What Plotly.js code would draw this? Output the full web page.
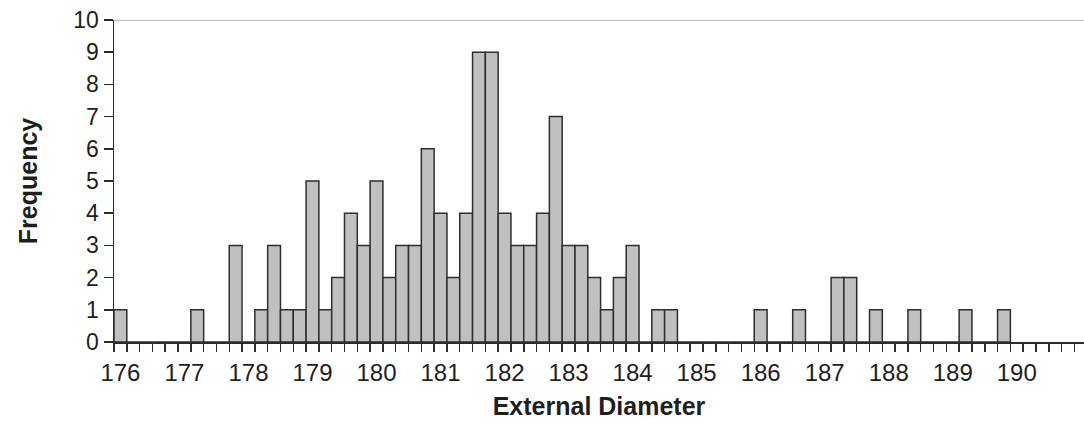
<!DOCTYPE html>
<html>
<head>
<meta charset="utf-8">
<script src="https://cdn.plot.ly/plotly-3.0.1.min.js"></script>
<style>
  html, body { margin: 0; padding: 0; background: #ffffff; }
  #chart { width: 1084px; height: 422px; }
</style>
</head>
<body>
<div id="chart"></div>
<script>
// Bin centres (width 0.2) and frequencies
const binCenters = [
  176.0, 176.2, 176.4, 176.6, 176.8, 177.0, 177.2, 177.4, 177.6, 177.8,
  178.0, 178.2, 178.4, 178.6, 178.8, 179.0, 179.2, 179.4, 179.6, 179.8,
  180.0, 180.2, 180.4, 180.6, 180.8, 181.0, 181.2, 181.4, 181.6, 181.8,
  182.0, 182.2, 182.4, 182.6, 182.8, 183.0, 183.2, 183.4, 183.6, 183.8,
  184.0, 184.2, 184.4, 184.6, 184.8, 185.0, 185.2, 185.4, 185.6, 185.8,
  186.0, 186.2, 186.4, 186.6, 186.8, 187.0, 187.2, 187.4, 187.6, 187.8,
  188.0, 188.2, 188.4, 188.6, 188.8, 189.0, 189.2, 189.4, 189.6, 189.8
];
const frequencies = [
  1, 0, 0, 0, 0, 0, 1, 0, 0, 3,
  0, 1, 3, 1, 1, 5, 1, 2, 4, 3,
  5, 2, 3, 3, 6, 4, 2, 4, 9, 9,
  4, 3, 3, 4, 7, 3, 3, 2, 1, 2,
  3, 0, 1, 1, 0, 0, 0, 0, 0, 0,
  1, 0, 0, 1, 0, 0, 2, 2, 0, 1,
  0, 0, 1, 0, 0, 0, 1, 0, 0, 1
];
const xTickVals = [176, 177, 178, 179, 180, 181, 182, 183, 184, 185, 186, 187, 188, 189, 190];
const xTickText = ["176", "177", "178", "179", "180", "181", "182", "183", "184", "185", "186", "187", "188", "189", "190"];
const yTickVals = [0, 1, 2, 3, 4, 5, 6, 7, 8, 9, 10];

const axisColor = '#2b2b2b';
const textColor = '#1e1e1e';
const fontFamily = '"Liberation Sans", Arial, Helvetica, sans-serif';

const trace = {
  type: 'bar',
  x: binCenters,
  y: frequencies,
  width: 0.2,
  marker: {
    color: '#c0c0c0',
    line: { color: '#2e2e2e', width: 1.5 }
  },
  hoverinfo: 'x+y'
};

const layout = {
  width: 1084,
  height: 422,
  margin: { l: 114, r: 0, t: 20, b: 80, pad: 0 },
  paper_bgcolor: '#ffffff',
  plot_bgcolor: '#ffffff',
  showlegend: false,
  bargap: 0,
  font: { family: fontFamily, color: textColor },
  xaxis: {
    range: [175.9, 191.05],
    tickmode: 'array',
    tickvals: xTickVals,
    ticktext: xTickText,
    ticks: 'outside',
    ticklen: 8,
    tickcolor: 'rgba(0,0,0,0)',
    tickfont: { size: 24, family: fontFamily, color: textColor },
    ticklabelstandoff: 1,
    minor: {
      tickmode: 'linear',
      tick0: 175.9,
      dtick: 0.2,
      ticks: 'outside',
      ticklen: 8,
      tickwidth: 1.5,
      tickcolor: axisColor,
      showgrid: false
    },
    showline: true,
    linecolor: axisColor,
    linewidth: 1.5,
    showgrid: false,
    zeroline: false,
    fixedrange: true,
    automargin: false,
    title: {
      text: 'External Diameter',
      font: { size: 25, family: fontFamily, color: textColor, weight: 'bold' },
      standoff: 12
    }
  },
  yaxis: {
    range: [0, 10],
    tickmode: 'array',
    tickvals: yTickVals,
    ticks: 'outside',
    ticklen: 9,
    tickwidth: 1.5,
    tickcolor: axisColor,
    tickfont: { size: 23, family: fontFamily, color: textColor },
    showline: true,
    linecolor: axisColor,
    linewidth: 1.5,
    showgrid: false,
    zeroline: false,
    fixedrange: true,
    automargin: false,
    title: {
      text: 'Frequency',
      font: { size: 25, family: fontFamily, color: textColor, weight: 'bold' },
      standoff: 28
    }
  },
  shapes: [{
    type: 'line',
    xref: 'paper', yref: 'y',
    x0: 0, x1: 1, y0: 10, y1: 10,
    line: { color: '#bdbdbd', width: 2 },
    layer: 'below'
  }]
};

Plotly.newPlot('chart', [trace], layout, { displayModeBar: false, staticPlot: true });
</script>
</body>
</html>
